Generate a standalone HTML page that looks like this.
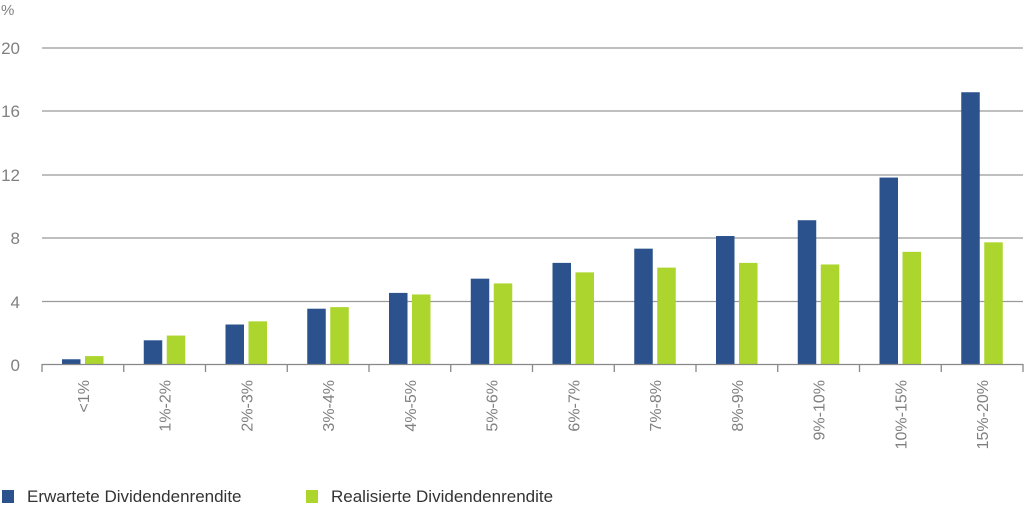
<!DOCTYPE html>
<html><head><meta charset="utf-8"><style>
html,body{margin:0;padding:0;background:#fff;}
svg{display:block;font-family:"Liberation Sans",sans-serif;}
</style></head><body>
<svg width="1024" height="507" viewBox="0 0 1024 507">
<g fill="#808080" font-size="17">
<text x="1" y="15" font-size="15">%</text>
<text x="20" y="54" text-anchor="end">20</text>
<text x="20" y="117" text-anchor="end">16</text>
<text x="20" y="181" text-anchor="end">12</text>
<text x="20" y="244" text-anchor="end">8</text>
<text x="20" y="308" text-anchor="end">4</text>
<text x="20" y="371" text-anchor="end">0</text>
</g>
<g stroke="#999" stroke-width="1.3">
<line x1="42" y1="48" x2="1023" y2="48"/>
<line x1="42" y1="111" x2="1023" y2="111"/>
<line x1="42" y1="175" x2="1023" y2="175"/>
<line x1="42" y1="238" x2="1023" y2="238"/>
<line x1="42" y1="301.5" x2="1023" y2="301.5"/>
</g>
<g id="bars"></g>
<g stroke="#888" stroke-width="1.3" id="axis">
<line x1="42" y1="364.5" x2="1023" y2="364.5"/>
</g>
<g id="labels" fill="#808080" font-size="16"></g>
<rect x="2" y="490" width="12" height="13" fill="#2b528c"/>
<text x="27" y="502" font-size="17" fill="#333">Erwartete Dividendenrendite</text>
<rect x="306" y="490" width="12" height="13" fill="#acd62d"/>
<text x="331" y="502" font-size="17" fill="#333">Realisierte Dividendenrendite</text>
<script>
var b=[0.3,1.5,2.5,3.5,4.5,5.4,6.4,7.3,8.1,9.1,11.8,17.2];
var g=[0.5,1.8,2.7,3.6,4.4,5.1,5.8,6.1,6.4,6.3,7.1,7.7];
var L=["<1%","1%-2%","2%-3%","3%-4%","4%-5%","5%-6%","6%-7%","7%-8%","8%-9%","9%-10%","10%-15%","15%-20%"];
var ns="http://www.w3.org/2000/svg",bars=document.getElementById("bars"),ax=document.getElementById("axis"),lb=document.getElementById("labels");
function el(p,t,a){var e=document.createElementNS(ns,t);for(var k in a)e.setAttribute(k,a[k]);p.appendChild(e);return e;}
var w=81.75,s=15.8,y0=364;
for(var i=0;i<=12;i++){var x=42+w*i;el(ax,"line",{x1:x,y1:364,x2:x,y2:372});}
for(var i=0;i<12;i++){var x=42+w*i;
el(bars,"rect",{x:x+20,y:y0-b[i]*s,width:18.5,height:b[i]*s,fill:"#2b528c"});
el(bars,"rect",{x:x+43,y:y0-g[i]*s,width:18.5,height:g[i]*s,fill:"#acd62d"});
var t=el(lb,"text",{x:0,y:0,"text-anchor":"end",transform:"translate("+(x+w/2+6)+",380) rotate(-90)"});t.textContent=L[i];}
</script>
</svg>
</body></html>
